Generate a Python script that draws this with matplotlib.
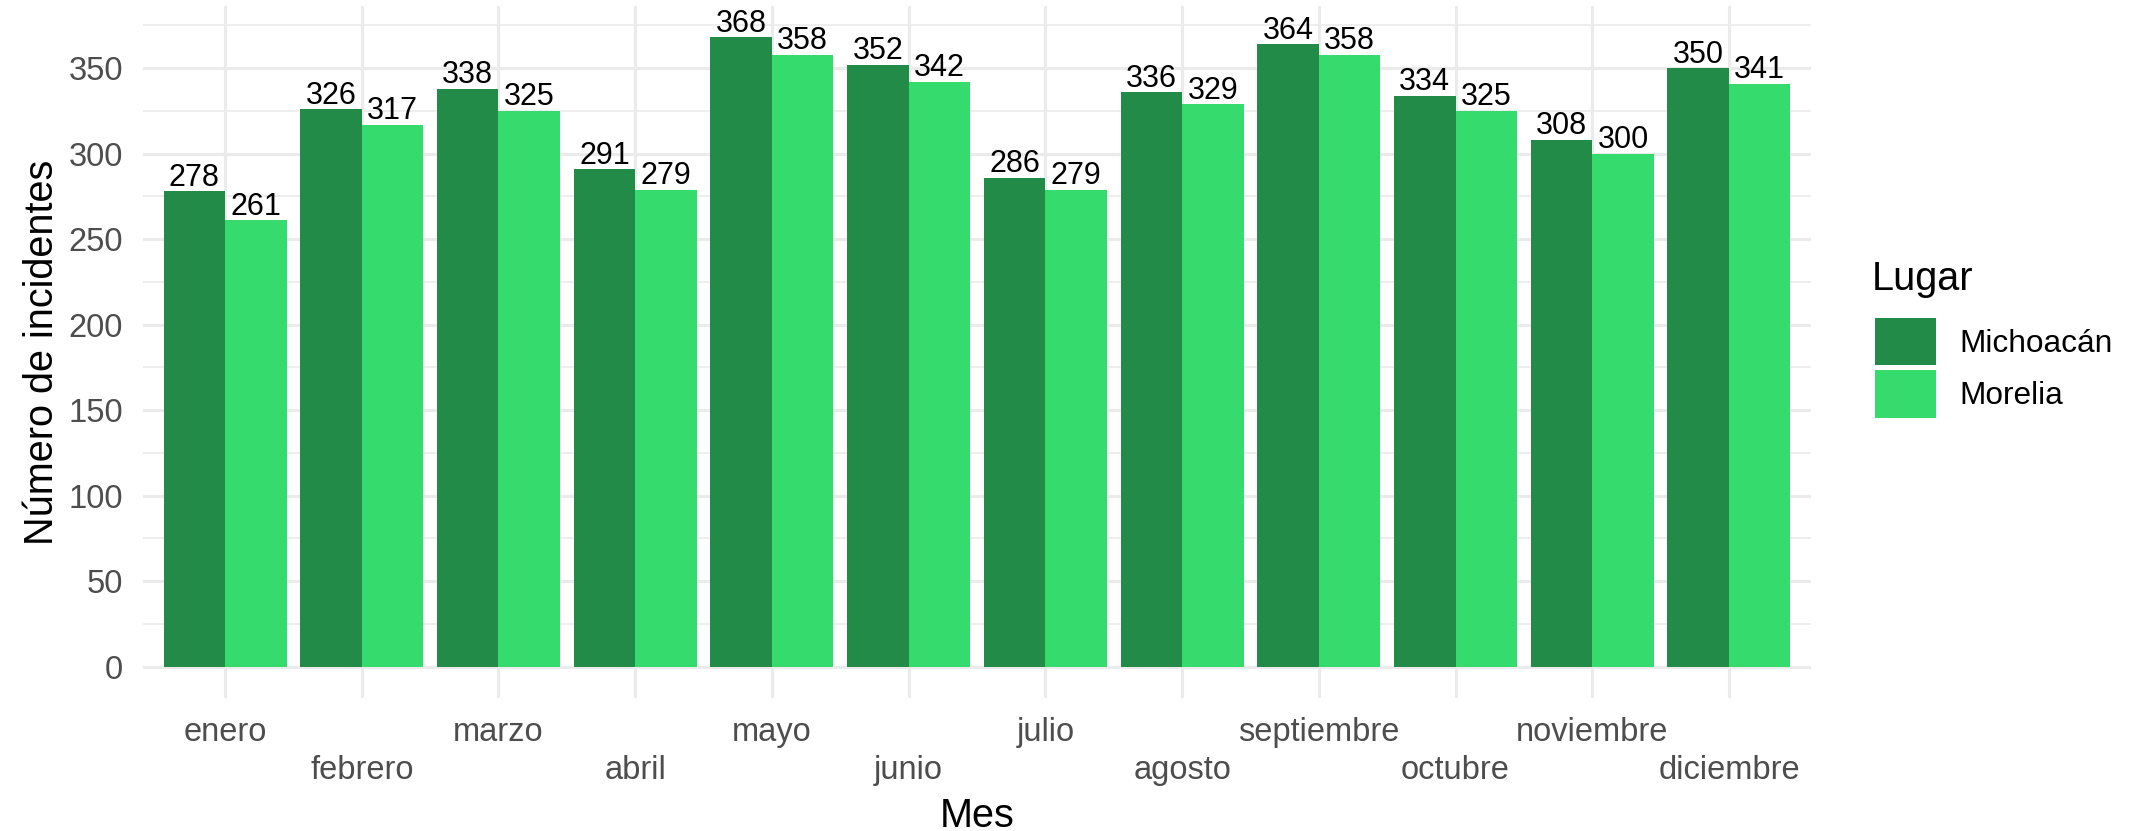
import numpy as np
import matplotlib
matplotlib.use("Agg")
import matplotlib.pyplot as plt
from matplotlib.patches import Patch

meses = ["enero", "febrero", "marzo", "abril", "mayo", "junio", "julio",
         "agosto", "septiembre", "octubre", "noviembre", "diciembre"]
michoacan = [278, 326, 338, 291, 368, 352, 286, 336, 364, 334, 308, 350]
morelia = [261, 317, 325, 279, 358, 342, 279, 329, 358, 325, 300, 341]
series_names = ["Michoacán", "Morelia"]
colors = ["#238B48", "#35DB6C"]

plt.rcParams["font.family"] = ["Liberation Sans", "DejaVu Sans"]

W, H = 2143, 831
fig = plt.figure(figsize=(W / 100, H / 100), dpi=100)
pl, pr, pt, pb = 143, 1811, 6, 698
ax = fig.add_axes([pl / W, (H - pb) / H, (pr - pl) / W, (pb - pt) / H])

x = np.arange(1, len(meses) + 1)
bw = 0.45
for vals, off, col in [(michoacan, -bw / 2, colors[0]), (morelia, bw / 2, colors[1])]:
    bars = ax.bar(x + off, vals, width=bw, color=col, zorder=3, linewidth=0)
    for xi, v in zip(x + off, vals):
        ax.annotate(str(v), (xi, v), xytext=(0, 4), textcoords="offset points",
                    ha="center", va="baseline", fontsize=22, color="black", zorder=4)

ymax = max(max(michoacan), max(morelia))
ax.set_xlim(0.4, len(meses) + 0.6)
ax.set_ylim(-0.05 * ymax, 1.05 * ymax)

# y ticks
ax.set_yticks(np.arange(0, 351, 50))
ax.set_yticks(np.arange(25, 376, 50), minor=True)
ax.tick_params(axis="y", which="both", length=0, pad=14.4, labelsize=23.5, labelcolor="#4D4D4D")

# x ticks in two rows
ax.set_xticks(x[::2], meses[::2])
ax.set_xticks(x[1::2], meses[1::2], minor=True)
ax.tick_params(axis="x", which="major", length=0, pad=14, labelsize=23.5, labelcolor="#4D4D4D")
ax.tick_params(axis="x", which="minor", length=0, pad=41.3, labelsize=23.5, labelcolor="#4D4D4D")

ax.grid(axis="y", which="major", color="#EBEBEB", linewidth=2.3, zorder=0)
ax.grid(axis="y", which="minor", color="#EBEBEB", linewidth=1.2, zorder=0)
ax.grid(axis="x", which="both", color="#EBEBEB", linewidth=2.3, zorder=0)
ax.set_axisbelow(True)
for s in ax.spines.values():
    s.set_visible(False)

ax.set_xlabel("Mes", fontsize=28.5, color="black")
ax.xaxis.set_label_coords(0.5, -(796.6 - pb) / (pb - pt))
ax.set_ylabel("Número de incidentes", fontsize=28.5, color="black")
ax.yaxis.set_label_coords(-(pl - 61) / (pr - pl), 0.5)

# legend
fig.text(1872 / W, (H - 290) / H, "Lugar", fontsize=28.5, ha="left", va="baseline", color="black")
handles = [Patch(facecolor=c, edgecolor="none", label=n) for c, n in zip(colors, series_names)]
fs = 22.8
fpx = fs * 100 / 72
fig.legend(handles=handles, loc="upper left",
           bbox_to_anchor=(1875 / W, (H - 318) / H), bbox_transform=fig.transFigure,
           frameon=False, borderpad=0, borderaxespad=0, fontsize=fs,
           handlelength=61 / fpx, handleheight=61 / fpx,
           handletextpad=23 / fpx, labelspacing=5 / fpx)

fig.savefig("out.png", dpi=100)
